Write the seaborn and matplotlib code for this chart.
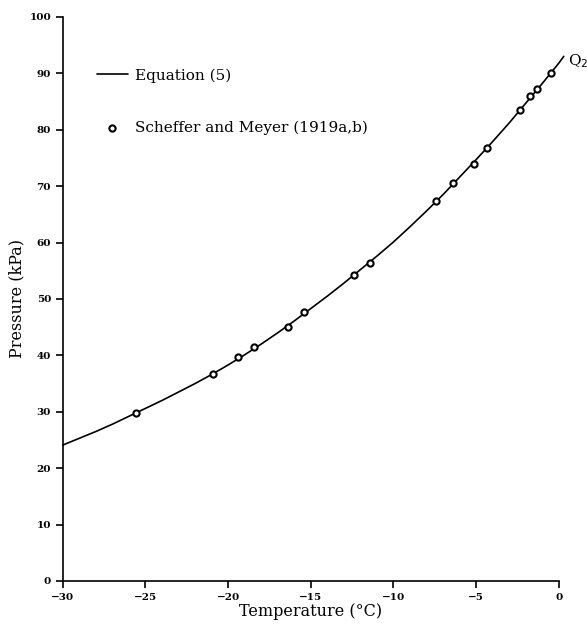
import numpy as np
import pandas as pd
import matplotlib
matplotlib.use("Agg")
import matplotlib.pyplot as plt
import seaborn as sns

# Equation (5) curve
eq_temp = [-30, -29, -28, -27, -26, -25, -24, -23, -22, -21, -20, -19, -18, -17,
           -16, -15, -14, -13, -12, -11, -10, -9, -8, -7, -6, -5, -4, -3, -2,
           -1, 0, 0.3]
eq_pres = [24.1, 25.3, 26.5, 27.8, 29.2, 30.6, 32.0, 33.5, 35.0, 36.6, 38.3,
           40.1, 42.0, 44.0, 46.1, 48.3, 50.5, 52.8, 55.2, 57.6, 60.1, 62.8,
           65.6, 68.5, 71.6, 74.7, 77.9, 81.2, 84.7, 88.2, 91.8, 93.0]

# Scheffer and Meyer (1919a,b) measurements
sm_temp = [-25.6, -20.9, -19.4, -18.45, -16.4, -15.4, -12.4, -11.4,
           -7.4, -6.4, -5.15, -4.35, -2.35, -1.75, -1.3, -0.5]
sm_pres = [29.8, 36.7, 39.7, 41.4, 45.1, 47.6, 54.2, 56.4,
           67.4, 70.6, 73.9, 76.7, 83.5, 85.9, 87.2, 90.0]

x_ticks = [-30, -25, -20, -15, -10, -5, 0]
x_labels = ["\u221230", "\u221225", "\u221220", "\u221215", "\u221210", "\u22125", "0"]
y_ticks = list(range(0, 101, 10))

eq_df = pd.DataFrame({"T": eq_temp, "P": eq_pres})
sm_df = pd.DataFrame({"T": sm_temp, "P": sm_pres})

sns.set_style("ticks")
plt.rcParams["font.family"] = ["DejaVu Serif"]
plt.rcParams["text.color"] = "black"
plt.rcParams["axes.labelcolor"] = "black"
plt.rcParams["axes.edgecolor"] = "black"
plt.rcParams["xtick.color"] = "black"
plt.rcParams["ytick.color"] = "black"

fig = plt.figure(figsize=(5.87, 6.25), dpi=100)
ax = fig.add_axes([0.107, 0.0704, 0.845, 0.9026])

sns.lineplot(data=eq_df, x="T", y="P", ax=ax, color="black", linewidth=1.2,
             label="Equation (5)", clip_on=False, sort=False)
sns.scatterplot(data=sm_df, x="T", y="P", ax=ax, marker="o", s=20,
                facecolor="white", edgecolor="black", linewidth=1.5,
                label="Scheffer and Meyer (1919a,b)", zorder=3)

ax.set_xlim(-30, 0)
ax.set_ylim(0, 100)
ax.set_xticks(x_ticks)
ax.set_xticklabels(x_labels)
ax.set_yticks(y_ticks)
ax.tick_params(axis="both", direction="out", length=5, width=1.2, labelsize=7.5)
for lbl in ax.get_xticklabels() + ax.get_yticklabels():
    lbl.set_fontweight("bold")

sns.despine(ax=ax)
ax.spines["left"].set_linewidth(1.2)
ax.spines["bottom"].set_linewidth(1.2)

ax.set_xlabel("Temperature (\u00b0C)", fontsize=11.5, labelpad=1)
ax.set_ylabel("Pressure (kPa)", fontsize=11.5, labelpad=3)

ax.text(0.55, 92.2, "Q$_2$", fontsize=11, ha="left", va="center", clip_on=False)

ax.legend(loc="upper left", bbox_to_anchor=(0.069, 0.909), frameon=False,
          fontsize=11, handlelength=2.0, handletextpad=0.5, labelspacing=2.5,
          borderpad=0, borderaxespad=0)

fig.savefig("out.png", dpi=100)
